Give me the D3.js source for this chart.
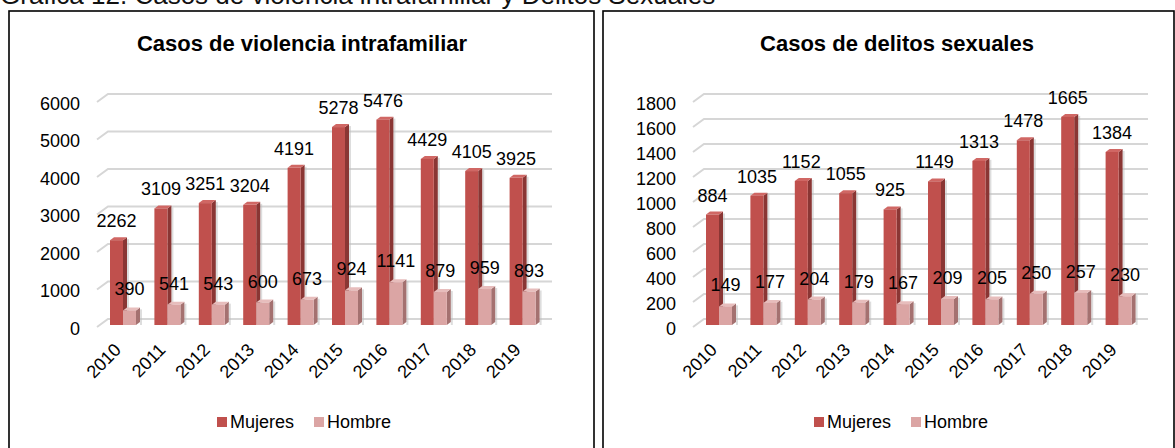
<!DOCTYPE html>
<html>
<head>
<meta charset="utf-8">
<script src="https://cdn.jsdelivr.net/npm/d3@7"></script>
<style>
  body { margin: 0; background: #fff; }
  svg { display: block; font-family: Arial, "Liberation Sans", sans-serif; }
</style>
</head>
<body>
<div id="wrapper"></div>
<script>
// data
const years = ["2010", "2011", "2012", "2013", "2014", "2015", "2016", "2017", "2018", "2019"];
const violenciaMujeres = [2262, 3109, 3251, 3204, 4191, 5278, 5476, 4429, 4105, 3925];
const violenciaHombre = [390, 541, 543, 600, 673, 924, 1141, 879, 959, 893];
const delitosMujeres = [884, 1035, 1152, 1055, 925, 1149, 1313, 1478, 1665, 1384];
const delitosHombre = [149, 177, 204, 179, 167, 209, 205, 250, 257, 230];
const violenciaTicks = [0, 1000, 2000, 3000, 4000, 5000, 6000];
const delitosTicks = [0, 200, 400, 600, 800, 1000, 1200, 1400, 1600, 1800];
const seriesNames = ["Mujeres", "Hombre"];

const colors = {
  Mujeres: { front: "#c0504d", side: "#8a3634", top: "#d06764" },
  Hombre: { front: "#dba5a4", side: "#a47170", top: "#e7bdbc" },
};

const svg = d3
  .select("#wrapper")
  .append("svg")
  .attr("width", 1175)
  .attr("height", 448);

svg.append("rect").attr("width", 1175).attr("height", 448).attr("fill", "#fff");

// caption, cut by the top of the picture
svg
  .append("text")
  .attr("x", 0)
  .attr("y", 4)
  .style("font-size", "26px")
  .attr("fill", "#111")
  .text("Gráfica 12. Casos de violencia intrafamiliar y Delitos Sexuales");

function drawPanel(p) {
  const g = svg.append("g");

  // frame
  g.append("rect")
    .attr("x", p.frameLeft)
    .attr("y", 11)
    .attr("width", p.frameRight - p.frameLeft)
    .attr("height", 460)
    .attr("fill", "none")
    .attr("stroke", "#000")
    .attr("stroke-width", 1.6);

  g.append("text")
    .attr("x", p.titleX)
    .attr("y", 51)
    .attr("text-anchor", "middle")
    .style("font-size", "22px")
    .style("font-weight", "bold")
    .text(p.title);

  const depth = 11; // depth of the 3D wall
  const rise = 8;
  const xScale = d3
    .scaleBand()
    .domain(years)
    .range([p.plotLeft, p.plotLeft + 444]);

  const yScale = d3
    .scaleLinear()
    .domain([0, d3.max(p.ticks)])
    .range([325, 100]);

  // gridlines on back wall
  const grid = g.append("g");
  grid
    .selectAll("path")
    .data(p.ticks)
    .join("path")
    .attr("d", (d) => {
      const y = yScale(d);
      return `M${p.plotLeft},${y + 2}L${p.plotLeft + depth},${y + 2 - rise}H${p.plotLeft + depth + 444}`;
    })
    .attr("fill", "none")
    .attr("stroke", "#d6d6d6")
    .attr("stroke-width", 2);

  // y labels
  g.append("g")
    .selectAll("text")
    .data(p.ticks)
    .join("text")
    .attr("x", p.plotLeft - 17)
    .attr("y", (d) => yScale(d) + 3.5)
    .attr("dy", "0.35em")
    .attr("text-anchor", "end")
    .style("font-size", "18px")
    .text((d) => d);

  // bars
  const barW = 13;
  const side = 4;
  const cap = 3;
  const rows = years.map((year, i) => ({
    year,
    Mujeres: p.mujeres[i],
    Hombre: p.hombre[i],
  }));

  function bar3d(sel, key, offset) {
    const c = colors[key];
    const x0 = (d) => xScale(d.year) + offset;
    const top = (d) => yScale(d[key]);
    const bottom = yScale(0);
    // soft shadow
    sel.append("rect")
      .attr("x", (d) => x0(d) + barW + side)
      .attr("y", (d) => top(d) - cap + 2)
      .attr("width", 2)
      .attr("height", (d) => bottom - top(d) + cap - 2)
      .attr("fill", "#bbb")
      .attr("opacity", 0.5);
    sel.append("path")
      .attr("d", (d) =>
        `M${x0(d) + barW},${top(d)}L${x0(d) + barW + side},${top(d) - cap}V${bottom - cap}L${x0(d) + barW},${bottom}Z`)
      .attr("fill", c.side);
    sel.append("path")
      .attr("d", (d) =>
        `M${x0(d)},${top(d)}L${x0(d) + side},${top(d) - cap}H${x0(d) + barW + side}L${x0(d) + barW},${top(d)}Z`)
      .attr("fill", c.top);
    sel.append("rect")
      .attr("x", x0)
      .attr("y", top)
      .attr("width", barW)
      .attr("height", (d) => bottom - top(d))
      .attr("fill", c.front);
  }

  const groups = g.append("g").selectAll("g").data(rows).join("g");
  bar3d(groups, "Mujeres", 13);
  bar3d(groups, "Hombre", 26);

  // data labels
  groups
    .append("text")
    .attr("x", (d) => xScale(d.year) + 13 + barW / 2)
    .attr("y", (d) => yScale(d.Mujeres) - 13)
    .attr("text-anchor", "middle")
    .style("font-size", "18px")
    .text((d) => d.Mujeres);

  groups
    .append("text")
    .attr("x", (d) => xScale(d.year) + 26 + barW / 2)
    .attr("y", (d) => yScale(d.Hombre) - 15)
    .attr("text-anchor", "middle")
    .style("font-size", "18px")
    .text((d) => d.Hombre);

  // x labels rotated
  g.append("g")
    .selectAll("text")
    .data(years)
    .join("text")
    .attr("transform", (d) =>
      `translate(${xScale(d) + xScale.bandwidth() / 2 + 3},351) rotate(-45)`)
    .attr("text-anchor", "end")
    .style("font-size", "18px")
    .text((d) => d);

  // legend
  const legend = g
    .append("g")
    .selectAll("g")
    .data(seriesNames)
    .join("g")
    .attr("transform", (d, i) => `translate(${p.legendX + i * 97},417)`);
  legend
    .append("rect")
    .attr("width", 10)
    .attr("height", 10)
    .attr("fill", (d) => colors[d].front);
  legend
    .append("text")
    .attr("x", 13)
    .attr("y", 5)
    .attr("dy", "0.35em")
    .style("font-size", "18px")
    .text((d) => d);
}

drawPanel({
  frameLeft: 9,
  frameRight: 594,
  title: "Casos de violencia intrafamiliar",
  titleX: 302,
  plotLeft: 97,
  ticks: violenciaTicks,
  mujeres: violenciaMujeres,
  hombre: violenciaHombre,
  legendX: 217,
});

drawPanel({
  frameLeft: 603,
  frameRight: 1174,
  title: "Casos de delitos sexuales",
  titleX: 897,
  plotLeft: 693,
  ticks: delitosTicks,
  mujeres: delitosMujeres,
  hombre: delitosHombre,
  legendX: 814,
});
</script>
</body>
</html>
